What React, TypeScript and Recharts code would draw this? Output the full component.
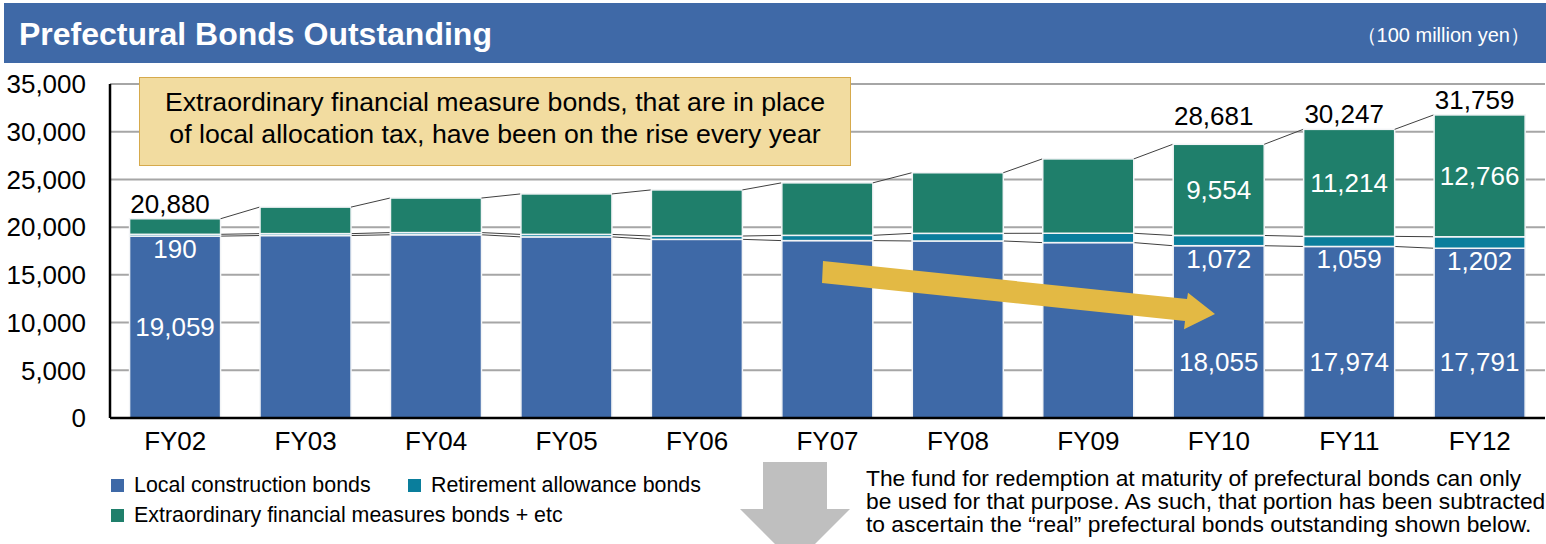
import React from 'react';
import { BarChart, Bar, XAxis, YAxis, CartesianGrid } from 'recharts';

const years = ['FY02', 'FY03', 'FY04', 'FY05', 'FY06', 'FY07', 'FY08', 'FY09', 'FY10', 'FY11', 'FY12'];
const localBonds = [19059, 19120, 19200, 18980, 18720, 18590, 18550, 18380, 18055, 17974, 17791];
const retirementBonds = [190, 200, 230, 260, 350, 550, 800, 980, 1072, 1059, 1202];
const extraordinaryBonds = [1631, 2780, 3620, 4240, 4830, 5500, 6350, 7790, 9554, 11214, 12766];
const yTicks = [0, 5000, 10000, 15000, 20000, 25000, 30000, 35000];
// years whose totals / segment values are printed on the chart
const totalYears = ['FY02', 'FY10', 'FY11', 'FY12'];
const extraYears = ['FY10', 'FY11', 'FY12'];

const FONT = '"Liberation Sans", Arial, sans-serif';
const BLUE = '#3E69A7';
const TEAL = '#0A7E9C';
const GREEN = '#1F7F6B';
const GAP = 0.15;

const data = years.map((year, i) => ({
  year,
  local: localBonds[i],
  retire: retirementBonds[i],
  extra: extraordinaryBonds[i],
}));

const ORDER = ['local', 'retire', 'extra'];
const stackTop = (d: any, key: string) =>
  ORDER.slice(0, ORDER.indexOf(key) + 1).reduce((s, k) => s + d[k], 0);

const fmt = (v: number) => v.toLocaleString('en-US');

const makeShape = (key: string, fill: string) => (props: any) => {
  const { x, y, width, height, index } = props;
  const d = data[index];
  const next = data[index + 1];
  const ppu = height / d[key];
  const step = width / (1 - 2 * GAP);
  const cx = x + width / 2;
  let line = null;
  if (next) {
    const yNext = y - (stackTop(next, key) - stackTop(d, key)) * ppu;
    line = <line x1={x + width} y1={y} x2={x + step} y2={yNext} stroke="#404040" strokeWidth={1} />;
  }
  const labels: React.ReactNode[] = [];
  const txt = { fontSize: 26, fontFamily: FONT, textAnchor: 'middle' as const, dominantBaseline: 'central' as const };
  if (key === 'local' && totalYears.includes(d.year)) {
    const ly = index === 0 ? y + height / 2 : y + height - 56;
    labels.push(<text key="l" x={cx} y={ly} fill="#fff" {...txt}>{fmt(d.local)}</text>);
  }
  if (key === 'retire' && totalYears.includes(d.year)) {
    labels.push(<text key="r" x={cx} y={y + height + 13} fill="#fff" {...txt}>{fmt(d.retire)}</text>);
  }
  if (key === 'extra') {
    if (extraYears.includes(d.year)) {
      labels.push(<text key="e" x={cx} y={y + height / 2} fill="#fff" {...txt}>{fmt(d.extra)}</text>);
    }
    if (totalYears.includes(d.year)) {
      const lift = index === 8 ? 28 : 15;
      labels.push(<text key="t" x={cx - 5} y={y - lift} fill="#000" {...txt}>{fmt(stackTop(d, 'extra'))}</text>);
    }
  }
  return (
    <g>
      <rect x={x} y={y} width={width} height={height} fill={fill} stroke="#F2F4F6" strokeWidth={1.5} />
      {line}
      {labels}
    </g>
  );
};

const legendItems = [
  { label: 'Local construction bonds', color: BLUE, left: 111, top: 479 },
  { label: 'Retirement allowance bonds', color: TEAL, left: 408, top: 479 },
  { label: 'Extraordinary financial measures bonds + etc', color: GREEN, left: 111, top: 509 },
];

export default function App() {
  return (
    <div style={{ position: 'absolute', left: 0, top: 0, width: 1546, height: 544, background: '#fff', fontFamily: FONT, overflow: 'hidden' }}>
      <BarChart
        width={1546}
        height={470}
        data={data}
        margin={{ top: 84, right: 1, bottom: 12, left: 0 }}
        barCategoryGap={`${GAP * 100}%`}
        style={{ fontFamily: FONT }}
      >
        <CartesianGrid horizontal vertical={false} stroke="#A6A6A6" strokeWidth={2} />
        <XAxis
          dataKey="year"
          height={40}
          interval={0}
          axisLine={{ stroke: '#000', strokeWidth: 2.5 }}
          tickLine={false}
          tickSize={0}
          tickMargin={14}
          tick={{ fontSize: 26, fill: '#000', fontFamily: FONT }}
        />
        <YAxis
          width={110}
          domain={[0, 35000]}
          ticks={yTicks}
          tickFormatter={fmt}
          axisLine={{ stroke: '#000', strokeWidth: 2.5 }}
          tickLine={false}
          tickSize={0}
          tickMargin={24}
          tick={{ fontSize: 26, fill: '#000', fontFamily: FONT }}
        />
        <YAxis yAxisId="r" orientation="right" width={0} domain={[0, 35000]} tick={false} tickLine={false} axisLine={{ stroke: '#BFBFBF', strokeWidth: 1.5 }} />
        <Bar dataKey="local" stackId="a" fill={BLUE} isAnimationActive={false} shape={makeShape('local', BLUE)} />
        <Bar dataKey="retire" stackId="a" fill={TEAL} isAnimationActive={false} shape={makeShape('retire', TEAL)} />
        <Bar dataKey="extra" stackId="a" fill={GREEN} isAnimationActive={false} shape={makeShape('extra', GREEN)} />
      </BarChart>

      {/* header */}
      <div style={{ position: 'absolute', left: 4, top: 3, width: 1542, height: 60, background: '#3F69A7' }}>
        <div style={{ position: 'absolute', left: 15, top: 0, lineHeight: '62px', fontSize: 32, fontWeight: 'bold', color: '#fff' }}>
          Prefectural Bonds Outstanding
        </div>
        <div style={{ position: 'absolute', right: 16, top: 0, lineHeight: '64px', fontSize: 20, color: '#fff' }}>
          （100 million yen）
        </div>
      </div>

      {/* annotation box */}
      <div
        style={{
          position: 'absolute', left: 139, top: 77, width: 710, height: 79,
          background: '#F2DCA0', border: '1.5px solid #D6AA4C', fontSize: 26.7, lineHeight: '32px',
          textAlign: 'center', color: '#000', paddingTop: 8,
        }}
      >
        Extraordinary financial measure bonds, that are in place<br />
        of local allocation tax, have been on the rise every year
      </div>

      <svg width={1546} height={544} style={{ position: 'absolute', left: 0, top: 0, pointerEvents: 'none' }}>
        <polygon points="823,261 1187,299 1188,292.7 1215,314 1184,329.3 1185,321 822,283" fill="#E3B944" />
        <polygon points="763,462 827,462 827,509 850,509 795,564 740,509 763,509" fill="#BFBFBF" />
      </svg>

      {/* legend */}
      {legendItems.map((it) => (
        <div key={it.label} style={{ position: 'absolute', left: it.left, top: it.top, height: 13, display: 'flex', alignItems: 'center', whiteSpace: 'nowrap' }}>
          <span style={{ width: 13, height: 13, background: it.color, display: 'inline-block' }} />
          <span style={{ marginLeft: 10, fontSize: 21.4, color: '#000' }}>{it.label}</span>
        </div>
      ))}

      <div style={{ position: 'absolute', left: 866, top: 467, fontSize: 22.8, lineHeight: '23px', color: '#000', whiteSpace: 'nowrap' }}>
        The fund for redemption at maturity of prefectural bonds can only<br />
        be used for that purpose. As such, that portion has been subtracted<br />
        to ascertain the “real” prefectural bonds outstanding shown below.
      </div>
    </div>
  );
}
